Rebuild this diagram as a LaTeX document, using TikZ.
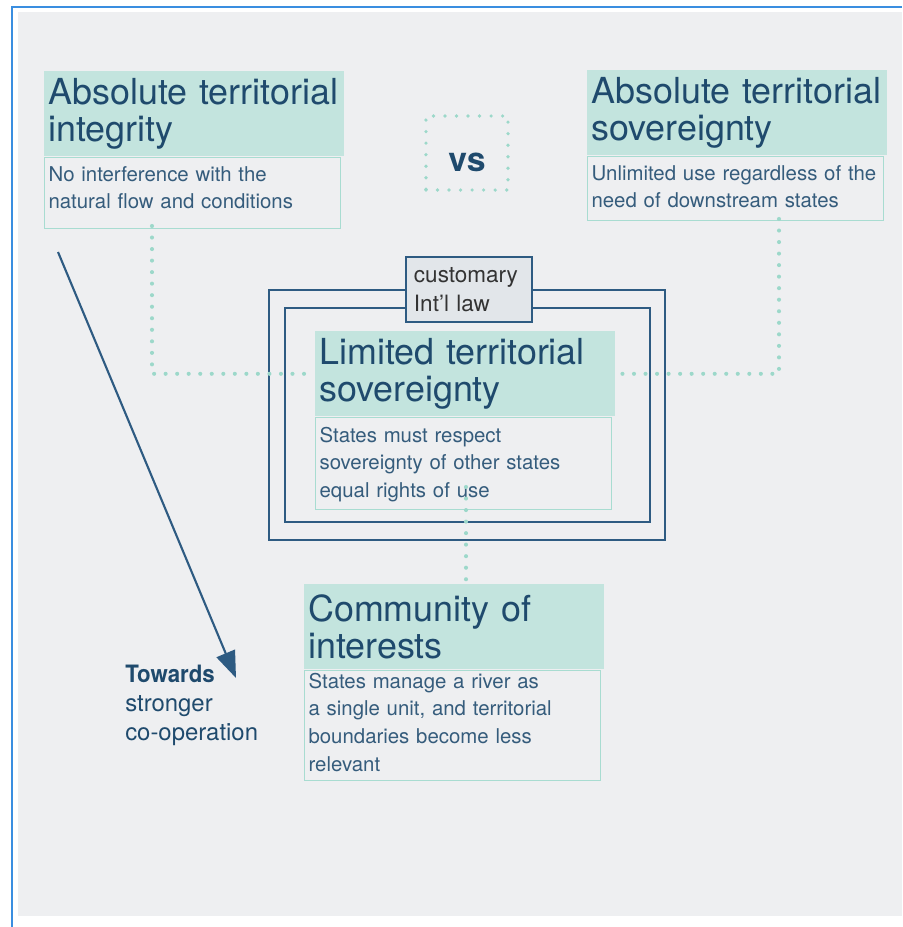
\documentclass[tikz,border=0pt]{standalone}
\usepackage{fontspec}
\setmainfont{TeX Gyre Heros}
\newfontfamily\condfont[FakeStretch=0.93]{TeX Gyre Heros}
\usetikzlibrary{arrows.meta,positioning}

\definecolor{panel}{HTML}{EEEFF1}
\definecolor{pageline}{HTML}{3A8EE0}
\definecolor{headfill}{HTML}{C3E4DE}
\definecolor{ink}{HTML}{1F4A6D}
\definecolor{bodyline}{HTML}{A8DCD1}
\definecolor{dotcol}{HTML}{9CD8CA}
\definecolor{framecol}{HTML}{2E5B82}
\definecolor{lawfill}{HTML}{E2E6EA}

\newcommand{\hdfont}{\fontsize{25.5}{25.8}\selectfont}
\newcommand{\bdfont}{\fontsize{14.5}{19.7}\selectfont}

\begin{document}
\begin{tikzpicture}[x=0.025cm, y=-0.025cm,
  head/.style={fill=headfill, text=ink, font=\hdfont, align=left, anchor=north west,
    text width=7.3cm, inner xsep=0.1cm, inner ysep=0pt, minimum height=2.125cm},
  body/.style={draw=bodyline, fill=panel, text=ink!90, font=\bdfont, align=left,
    anchor=north west, text width=7.2cm, inner xsep=0.1cm, inner ysep=0pt, line width=0.8pt},
  dots/.style={draw=dotcol, line width=2.9pt, line cap=round, dash pattern=on 0pt off 8.2pt},
  frame/.style={framecol, line width=1.1pt}]
  \useasboundingbox (0,0) rectangle (902,927);
  \fill[white] (0,0) rectangle (902,927);
  \fill[panel] (18,12) rectangle (902,916);
  \draw[pageline, line width=1.5pt] (12,927) -- (12,7) -- (902,7);

  % frames of customary law
  \draw[frame] (269,290) rectangle (665,540);
  \draw[frame] (285,308) rectangle (650,522);
  \node[draw=framecol, line width=1.1pt, fill=lawfill, text=black!80, align=left,
    font=\fontsize{16}{20.6}\selectfont, text width=2.75cm, inner xsep=0.2cm,
    minimum width=3.15cm, minimum height=1.625cm] (law) at (469,289.5)
    {customary\\Int’l law};

  \node[head] (ati) at (44,71) {Absolute territorial\\integrity};
  \node[body, text height=17.1pt, text depth=33.4pt] (atib) at (ati.south west)
    {No interference with the\\natural flow and conditions};

  \node[head] (ats) at (587,70) {Absolute territorial\\sovereignty};
  \node[body, text height=17.1pt, text depth=28.5pt] (atsb) at (ats.south west)
    {Unlimited use regardless of the\\need of downstream states};

  \node[dots, line width=2.6pt, minimum width=2.05cm, minimum height=1.85cm,
    text height=26.3pt, text depth=0pt, inner ysep=0pt,
    text=ink, font=\fontsize{24}{24}\selectfont\bfseries] (vs) at (467,153) {vs};

  \node[head] (lts) at (315,331) {Limited territorial\\sovereignty};
  \node[body, text height=17.8pt, text depth=47.7pt] (ltsb) at (lts.south west)
    {States must respect\\sovereignty of other states\\equal rights of use};

  \node[head] (coi) at (304,584) {Community of\\interests};
  \node[body, text height=12.8pt, text depth=65.4pt] (coib) at (coi.south west)
    {States manage a river as\\a single unit, and territorial\\boundaries become less\\relevant};

  \coordinate (k1) at (152,226);
  \coordinate (k2) at (779,219);
  \coordinate (k3) at (466,487);
  \draw[dots] (k1) |- (lts.west);
  \draw[dots] (k2) |- (lts.east);
  \draw[dots] (k3) -- (coi.north -| k3);

  % towards stronger co-operation
  \coordinate (a1) at (58,252);
  \coordinate (a2) at (236,678);
  \draw[framecol, line width=1.5pt, -{Triangle[length=19pt, width=14pt]}] (a1) -- (a2);
  \node[anchor=north west, align=left, text=ink, inner sep=0pt,
    font=\fontsize{17}{20.6}\selectfont] (tw) at (125,665)
    {{\condfont\bfseries Towards}\\stronger\\co-operation};
\end{tikzpicture}
\end{document}
